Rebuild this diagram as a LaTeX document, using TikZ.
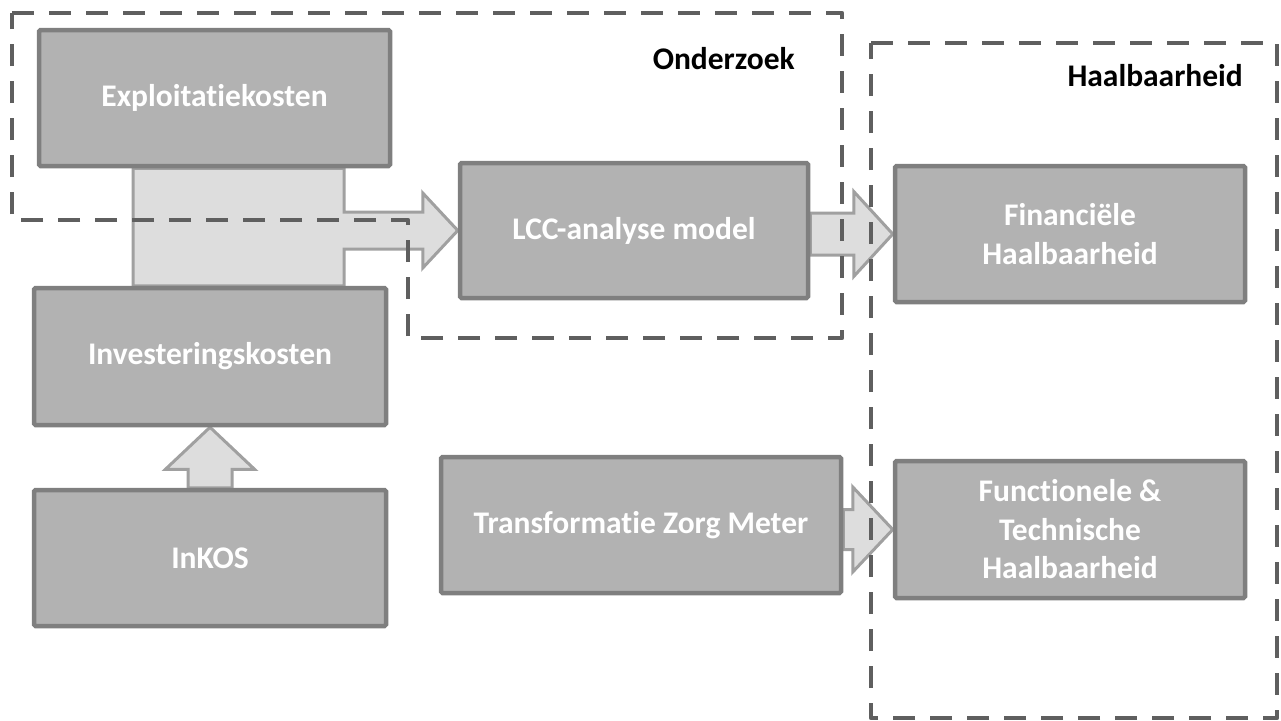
\documentclass[tikz,border=0pt]{standalone}
\usepackage{fontspec}
\setmainfont{Carlito}[Ligatures=NoCommon]
\usetikzlibrary{calc,backgrounds}

\definecolor{boxfill}{HTML}{B2B2B2}
\definecolor{boxline}{HTML}{7F7F7F}
\definecolor{arrowfill}{HTML}{DDDDDD}
\definecolor{arrowline}{HTML}{A0A0A0}
\definecolor{frameline}{HTML}{5F5F5F}

% right-pointing block arrow: #1 source, #2 target, #3 shaft half height,
% #4 head half height, #5 head length
\newcommand\fatright[5]{%
  \coordinate (fr-s) at (#1.east |- #2.west);
  \filldraw[blockarrow]
    ($(fr-s)+(0,-#3)$) -- ($(#2.west)+(-#5,-#3)$) -- ($(#2.west)+(-#5,-#4)$)
    -- (#2.west)
    -- ($(#2.west)+(-#5,#4)$) -- ($(#2.west)+(-#5,#3)$) -- ($(fr-s)+(0,#3)$) -- cycle;
}

\begin{document}
\begin{tikzpicture}[x=1pt,y=-1pt,
  box/.style={draw=boxline, fill=boxfill, line width=4.5pt, rounded corners=1.5pt,
    text=white, align=center, inner sep=0pt,
    font=\fontsize{31.5}{38.5}\selectfont\bfseries},
  blockarrow/.style={fill=arrowfill, draw=arrowline, line width=3pt, line join=miter},
  frame/.style={draw=frameline, line width=4.5pt, dash pattern=on 22pt off 15pt, line join=round},
  grouplabel/.style={anchor=base east, inner sep=0pt, text=black,
    font=\fontsize{31.5}{38.5}\selectfont\bfseries}]

\useasboundingbox (0,0) rectangle (1281,720);

% boxes
\node[box, minimum width=351pt, minimum height=136pt] (expl) at (214.5,98) {Exploitatiekosten};
\node[box, minimum width=352pt, minimum height=137pt] (inv) at (210,356.5) {Investeringskosten};
\node[box, minimum width=352pt, minimum height=136pt] (inkos) at (210,558) {InKOS};
\node[box, minimum width=348pt, minimum height=135pt] (lcc) at (634,230.5) {LCC-analyse model};
\node[box, minimum width=400pt, minimum height=136pt] (tzm) at (641,525) {Transformatie Zorg Meter};
\node[box, minimum width=350pt, minimum height=136pt] (fin) at (1070,234) {Financiële\\Haalbaarheid};
\node[box, minimum width=350pt, minimum height=137pt] (fun) at (1070,529.5) {Functionele \&\\Technische\\Haalbaarheid};

\begin{pgfonlayer}{background}
% merged cost arrow into the LCC model
\coordinate (barL) at ($(expl.south)+(-81.5,0)$);
\coordinate (barR) at ($(expl.south)+(129.5,0)$);
\coordinate (s1) at ($(lcc.west)+(-35,-18.5)$);
\coordinate (s2) at ($(lcc.west)+(-35,18.5)$);
\coordinate (h1) at ($(lcc.west)+(-35,-37.5)$);
\coordinate (h2) at ($(lcc.west)+(-35,37.5)$);
\filldraw[blockarrow] (barL) -- (barL |- inv.north) -- (barR |- inv.north) -- (barR |- s2)
  -- (s2) -- (h2) -- (lcc.west) -- (h1) -- (s1) -- (barR |- s1) -- (barR) -- cycle;

% InKOS feeds the investment costs
\filldraw[blockarrow] ($(inkos.north)+(-22,0)$) -- ($(inv.south)+(-22,42)$)
  -- ($(inv.south)+(-44.5,42)$) -- (inv.south) -- ($(inv.south)+(44.5,42)$)
  -- ($(inv.south)+(22,42)$) -- ($(inkos.north)+(22,0)$) -- cycle;

% outputs to feasibility
\fatright{lcc}{fin}{21}{42.5}{39}
\fatright{tzm}{fun}{20}{42.5}{40}
\end{pgfonlayer}

% group frames
\draw[frame] (12,13) -- (842,13) -- (842,338) -- (408,338) -- (408,220) -- (12,220) -- cycle;
\draw[frame] (871,43) -- (1277,43) -- (1277,718) -- (871,718) -- cycle;

\node[grouplabel] (onderzoek) at (795,69) {Onderzoek};
\node[grouplabel] (haalbaarheid) at (1243,86) {Haalbaarheid};
\end{tikzpicture}
\end{document}
